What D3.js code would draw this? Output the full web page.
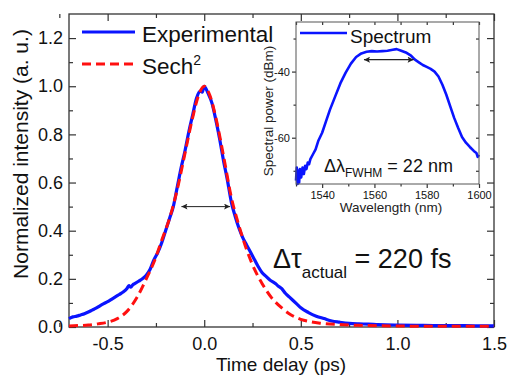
<!DOCTYPE html>
<html>
<head>
<meta charset="utf-8">
<script src="https://cdn.jsdelivr.net/npm/d3@7"></script>
<style>
  html, body { margin: 0; padding: 0; background: #fff; }
  svg { display: block; font-family: "Liberation Sans", Arial, sans-serif; }
</style>
</head>
<body>
<div id="chart"></div>
<script>
// autocorrelation trace
var expTime = [-0.70, -0.68, -0.66, -0.64, -0.62, -0.60, -0.58, -0.56, -0.54, -0.52, -0.50, -0.48, -0.46, -0.44, -0.42, -0.40, -0.39, -0.38, -0.37, -0.36, -0.34, -0.32, -0.30, -0.28, -0.26, -0.24, -0.22, -0.20, -0.18, -0.16, -0.14, -0.12, -0.10, -0.08, -0.06, -0.04, -0.02, -0.01, 0.0, 0.02, 0.04, 0.06, 0.08, 0.10, 0.12, 0.14, 0.16, 0.18, 0.20, 0.22, 0.24, 0.26, 0.28, 0.30, 0.32, 0.34, 0.36, 0.37, 0.38, 0.40, 0.42, 0.44, 0.46, 0.48, 0.50, 0.54, 0.58, 0.62, 0.66, 0.70, 0.75, 0.80, 0.85, 0.90, 1.0, 1.1, 1.2, 1.3, 1.4, 1.5];
var expVal = [0.035, 0.042, 0.045, 0.050, 0.055, 0.062, 0.070, 0.078, 0.088, 0.097, 0.105, 0.115, 0.125, 0.135, 0.145, 0.160, 0.172, 0.165, 0.175, 0.180, 0.190, 0.200, 0.215, 0.240, 0.280, 0.310, 0.350, 0.400, 0.450, 0.500, 0.580, 0.660, 0.730, 0.810, 0.880, 0.950, 0.980, 0.975, 1.000, 0.970, 0.930, 0.860, 0.780, 0.690, 0.610, 0.520, 0.460, 0.410, 0.370, 0.340, 0.310, 0.280, 0.250, 0.225, 0.210, 0.195, 0.185, 0.180, 0.172, 0.160, 0.140, 0.125, 0.110, 0.095, 0.080, 0.060, 0.045, 0.035, 0.025, 0.020, 0.015, 0.013, 0.012, 0.010, 0.008, 0.007, 0.006, 0.006, 0.005, 0.005];

var fitTime = [-0.70, -0.65, -0.60, -0.55, -0.50, -0.45, -0.40, -0.35, -0.30, -0.26, -0.22, -0.18, -0.14, -0.10, -0.06, -0.03, 0.0, 0.03, 0.06, 0.10, 0.14, 0.18, 0.22, 0.26, 0.30, 0.35, 0.40, 0.45, 0.50, 0.55, 0.60, 0.70, 0.80, 0.90, 1.0, 1.2, 1.5];
var fitVal = [0.004, 0.006, 0.008, 0.013, 0.020, 0.035, 0.065, 0.120, 0.200, 0.270, 0.360, 0.450, 0.570, 0.720, 0.870, 0.960, 1.000, 0.960, 0.870, 0.710, 0.540, 0.420, 0.320, 0.240, 0.180, 0.120, 0.080, 0.050, 0.032, 0.022, 0.016, 0.010, 0.007, 0.005, 0.004, 0.003, 0.003];

// optical spectrum (inset)
var specWl = [1530, 1530.3, 1530.6, 1530.9, 1531.2, 1531.5, 1532, 1532.5, 1533, 1533.5, 1534, 1534.5, 1535, 1535.5, 1536.5, 1537.5, 1538.5, 1540, 1541.5, 1543, 1545, 1547, 1549, 1551, 1553, 1555, 1557, 1559, 1561, 1563, 1565, 1567, 1568.5, 1570, 1572, 1574, 1575.5, 1577, 1578.5, 1580, 1581.5, 1583, 1584.5, 1586, 1587.5, 1589, 1590.5, 1592, 1593.5, 1595, 1596.5, 1598, 1599, 1599.5, 1600];
var specDbm = [-73, -69, -74, -70, -73.5, -69.5, -72, -69, -71, -68.5, -69.5, -67.5, -68, -66.5, -65, -63.5, -61, -58.5, -55, -51.5, -47.5, -43.5, -40.3, -37.6, -35.6, -34.5, -34.0, -33.8, -33.9, -33.8, -33.7, -33.4, -33.2, -33.6, -34.2, -35.2, -36.4, -37.2, -38.0, -38.6, -39.2, -40.0, -41.5, -44, -47, -50.5, -54, -57, -59.8, -61.5, -62.8, -64, -64.6, -65.8, -65.2];

var xMajor = [-0.5, 0.0, 0.5, 1.0, 1.5], xMinor = [-0.75, -0.25, 0.25, 0.75, 1.25];
var yMajor = [0.0, 0.2, 0.4, 0.6, 0.8, 1.0, 1.2], yMinor = [0.1, 0.3, 0.5, 0.7, 0.9, 1.1];
var wlMajor = [1540, 1560, 1580, 1600], wlMinor = [1530, 1550, 1570, 1590];
var dbMajor = [-60, -40], dbMinor = [-70, -50, -30];

var fwhmTime = [-0.118, 0.134], fwhmLevel = 0.5;
var fwhmWl = [1556, 1575], fwhmDbm = -36.4;

var width = 507, height = 376;
var svg = d3.select("#chart").append("svg")
	.attr("width", width)
	.attr("height", height);

var defs = svg.append("defs");
defs.append("marker")
	.attr("id", "head")
	.attr("viewBox", "0 0 10 10")
	.attr("refX", 10).attr("refY", 5)
	.attr("markerWidth", 7).attr("markerHeight", 6)
	.attr("markerUnits", "userSpaceOnUse")
	.attr("orient", "auto-start-reverse")
	.append("path").attr("d", "M0,0 L10,5 L0,10 L2,5 z").attr("fill", "#222");

var x = d3.scaleLinear().domain([-0.7, 1.5]).range([69, 494]);
var y = d3.scaleLinear().domain([0, 1.3]).range([327, 14]);

var fmt = function(d){ return d3.format(".1f")(d).replace("\u2212", "-"); };
var fmtInt = function(d){ return String(d); };

function styleAxis(g, size){
	g.select(".domain").remove();
	g.selectAll("text").attr("fill", "#111").style("font-size", size + "px");
	g.selectAll(".tick line").attr("stroke", "#333").attr("stroke-width", 1.2);
}

// main axes, ticks pointing in
svg.append("g").attr("transform", "translate(0,327)")
	.call(d3.axisBottom(x).tickValues(xMajor).tickSize(-7).tickPadding(10).tickFormat(fmt))
	.call(styleAxis, 18);
svg.append("g").attr("transform", "translate(0,327)")
	.call(d3.axisBottom(x).tickValues(xMinor).tickSize(-4).tickFormat(""))
	.call(styleAxis, 18);
svg.append("g").attr("transform", "translate(0,14)")
	.call(d3.axisTop(x).tickValues(xMajor).tickSize(-7).tickFormat(""))
	.call(styleAxis, 18);
svg.append("g").attr("transform", "translate(0,14)")
	.call(d3.axisTop(x).tickValues(xMinor).tickSize(-4).tickFormat(""))
	.call(styleAxis, 18);
svg.append("g").attr("transform", "translate(69,0)")
	.call(d3.axisLeft(y).tickValues(yMajor).tickSize(-7).tickPadding(6).tickFormat(fmt))
	.call(styleAxis, 18);
svg.append("g").attr("transform", "translate(69,0)")
	.call(d3.axisLeft(y).tickValues(yMinor).tickSize(-4).tickFormat(""))
	.call(styleAxis, 18);
svg.append("g").attr("transform", "translate(494,0)")
	.call(d3.axisRight(y).tickValues(yMajor).tickSize(-7).tickFormat(""))
	.call(styleAxis, 18);
svg.append("g").attr("transform", "translate(494,0)")
	.call(d3.axisRight(y).tickValues(yMinor).tickSize(-4).tickFormat(""))
	.call(styleAxis, 18);

svg.append("rect")
	.attr("x", 69).attr("y", 14).attr("width", 494 - 69).attr("height", 327 - 14)
	.attr("fill", "none").attr("stroke", "#333").attr("stroke-width", 1.3);

var line = d3.line().x(function(d){ return x(d[0]); }).y(function(d){ return y(d[1]); })
	.curve(d3.curveMonotoneX);

svg.append("path")
	.datum(d3.zip(expTime, expVal))
	.attr("d", line)
	.attr("fill", "none").attr("stroke", "#0a14ff").attr("stroke-width", 3.2);
svg.append("path")
	.datum(d3.zip(fitTime, fitVal))
	.attr("d", line)
	.attr("fill", "none").attr("stroke", "#ff1010").attr("stroke-width", 3)
	.attr("stroke-dasharray", "9,5");

svg.append("line")
	.attr("x1", x(fwhmTime[0])).attr("x2", x(fwhmTime[1]))
	.attr("y1", y(fwhmLevel)).attr("y2", y(fwhmLevel))
	.attr("stroke", "#222").attr("stroke-width", 1)
	.attr("marker-start", "url(#head)").attr("marker-end", "url(#head)");

// titles
svg.append("text")
	.attr("transform", "translate(28,154) rotate(-90)")
	.attr("text-anchor", "middle").style("font-size", "21px").attr("fill", "#111")
	.text("Normalized intensity (a. u.)");
svg.append("text")
	.attr("x", 281).attr("y", 371)
	.attr("text-anchor", "middle").style("font-size", "19px").attr("fill", "#111")
	.text("Time delay (ps)");

// legend
svg.append("line").attr("x1", 82).attr("x2", 135).attr("y1", 32).attr("y2", 32)
	.attr("stroke", "#0a14ff").attr("stroke-width", 3.2);
svg.append("text").attr("x", 142).attr("y", 42).style("font-size", "22.5px").attr("fill", "#111")
	.text("Experimental");
svg.append("line").attr("x1", 82).attr("x2", 135).attr("y1", 64).attr("y2", 64)
	.attr("stroke", "#ff1010").attr("stroke-width", 3).attr("stroke-dasharray", "9,5");
var sech = svg.append("text").attr("x", 142).attr("y", 74).style("font-size", "22.5px").attr("fill", "#111");
sech.append("tspan").text("Sech");
sech.append("tspan").attr("dy", -9).style("font-size", "14px").text("2");

var dt = svg.append("text").attr("x", 273).attr("y", 268).style("font-size", "27px").attr("fill", "#111");
dt.append("tspan").text("\u0394\u03c4");
dt.append("tspan").attr("dy", 10).style("font-size", "17px").text("actual");
dt.append("tspan").attr("dy", -10).text(" = 220 fs");

// inset
var xi = d3.scaleLinear().domain([1530, 1600]).range([296, 479]);
var yi = d3.scaleLinear().domain([-74, -25]).range([184, 22]);

svg.append("rect")
	.attr("x", 296).attr("y", 22).attr("width", 479 - 296).attr("height", 184 - 22)
	.attr("fill", "#fff");

svg.append("g").attr("transform", "translate(0,184)")
	.call(d3.axisBottom(xi).tickValues(wlMajor).tickSize(4).tickPadding(3).tickFormat(fmtInt))
	.call(styleAxis, 11);
svg.append("g").attr("transform", "translate(0,184)")
	.call(d3.axisBottom(xi).tickValues(wlMinor).tickSize(2.5).tickFormat(""))
	.call(styleAxis, 11);
svg.append("g").attr("transform", "translate(0,22)")
	.call(d3.axisTop(xi).tickValues(wlMajor.concat(wlMinor)).tickSize(-3).tickFormat(""))
	.call(styleAxis, 11);
svg.append("g").attr("transform", "translate(296,0)")
	.call(d3.axisLeft(yi).tickValues(dbMajor).tickSize(4).tickPadding(2).tickFormat(fmtInt))
	.call(styleAxis, 11);
svg.append("g").attr("transform", "translate(296,0)")
	.call(d3.axisLeft(yi).tickValues(dbMinor).tickSize(2.5).tickFormat(""))
	.call(styleAxis, 11);
svg.append("g").attr("transform", "translate(479,0)")
	.call(d3.axisRight(yi).tickValues(dbMajor.concat(dbMinor)).tickSize(-3).tickFormat(""))
	.call(styleAxis, 11);

var lineI = d3.line().x(function(d){ return xi(d[0]); }).y(function(d){ return yi(d[1]); });
svg.append("path")
	.datum(d3.zip(specWl, specDbm))
	.attr("d", lineI)
	.attr("fill", "none").attr("stroke", "#0a14ff").attr("stroke-width", 2.6)
	.attr("stroke-linejoin", "round");

svg.append("rect")
	.attr("x", 296).attr("y", 22).attr("width", 479 - 296).attr("height", 184 - 22)
	.attr("fill", "none").attr("stroke", "#555").attr("stroke-width", 1);

svg.append("line")
	.attr("x1", xi(fwhmWl[0])).attr("x2", xi(fwhmWl[1]))
	.attr("y1", yi(fwhmDbm)).attr("y2", yi(fwhmDbm))
	.attr("stroke", "#222").attr("stroke-width", 1.3)
	.attr("marker-start", "url(#head)").attr("marker-end", "url(#head)");

svg.append("line").attr("x1", 300).attr("x2", 347).attr("y1", 33).attr("y2", 33)
	.attr("stroke", "#0a14ff").attr("stroke-width", 2.6);
svg.append("text").attr("x", 350).attr("y", 42.5).style("font-size", "19px").attr("fill", "#111")
	.text("Spectrum");

svg.append("text")
	.attr("transform", "translate(273,111) rotate(-90)")
	.attr("text-anchor", "middle").style("font-size", "13.5px").attr("fill", "#222")
	.text("Spectral power (dBm)");
svg.append("text")
	.attr("x", 391).attr("y", 212)
	.attr("text-anchor", "middle").style("font-size", "13.5px").attr("fill", "#222")
	.text("Wavelength (nm)");

var dl = svg.append("text").attr("x", 324).attr("y", 172).style("font-size", "18px").attr("fill", "#111");
dl.append("tspan").text("\u0394\u03bb");
dl.append("tspan").attr("dy", 5).style("font-size", "12px").text("FWHM");
dl.append("tspan").attr("dy", -5).text(" = 22 nm");
</script>
</body>
</html>
